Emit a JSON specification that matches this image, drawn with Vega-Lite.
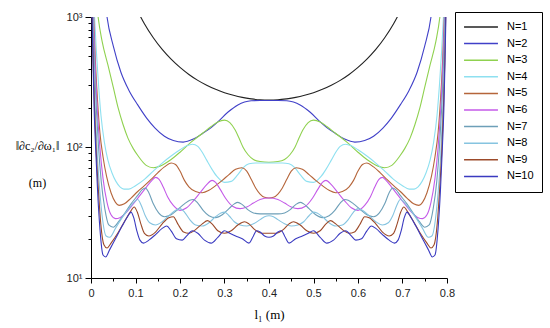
{
"$schema": "https://vega.github.io/schema/vega-lite/v6.json",
"width": 356, "height": 261,
"autosize": {"type": "none"},
"padding": {"left": 91, "top": 17, "right": 103, "bottom": 50},
"background": "white",
"config": {"view": {"stroke": null}, "font": "Liberation Sans"},
"data": {"values": [
{"N":"N=1","l":0.1,"v":1207},{"N":"N=1","l":0.112,"v":996},{"N":"N=1","l":0.12,"v":888},{"N":"N=1","l":0.14,"v":693},{"N":"N=1","l":0.16,"v":564},{"N":"N=1","l":0.18,"v":475},{"N":"N=1","l":0.2,"v":411},{"N":"N=1","l":0.22,"v":363},{"N":"N=1","l":0.24,"v":327},{"N":"N=1","l":0.26,"v":300},{"N":"N=1","l":0.28,"v":279},{"N":"N=1","l":0.3,"v":263},{"N":"N=1","l":0.32,"v":251},{"N":"N=1","l":0.34,"v":242},{"N":"N=1","l":0.36,"v":236},{"N":"N=1","l":0.38,"v":232},{"N":"N=1","l":0.4,"v":231},{"N":"N=1","l":0.42,"v":232},{"N":"N=1","l":0.44,"v":236},{"N":"N=1","l":0.46,"v":242},{"N":"N=1","l":0.48,"v":251},{"N":"N=1","l":0.5,"v":263},{"N":"N=1","l":0.52,"v":279},{"N":"N=1","l":0.54,"v":300},{"N":"N=1","l":0.56,"v":327},{"N":"N=1","l":0.58,"v":363},{"N":"N=1","l":0.6,"v":411},{"N":"N=1","l":0.62,"v":475},{"N":"N=1","l":0.64,"v":564},{"N":"N=1","l":0.66,"v":693},{"N":"N=1","l":0.68,"v":888},{"N":"N=1","l":0.688,"v":996},{"N":"N=1","l":0.7,"v":1207},
{"N":"N=2","l":0.03,"v":1500},{"N":"N=2","l":0.036,"v":1000},{"N":"N=2","l":0.05,"v":600},{"N":"N=2","l":0.067,"v":379},{"N":"N=2","l":0.085,"v":275},{"N":"N=2","l":0.105,"v":212},{"N":"N=2","l":0.125,"v":168},{"N":"N=2","l":0.144,"v":141},{"N":"N=2","l":0.165,"v":122},{"N":"N=2","l":0.185,"v":113},{"N":"N=2","l":0.207,"v":110},{"N":"N=2","l":0.23,"v":116},{"N":"N=2","l":0.252,"v":129},{"N":"N=2","l":0.27,"v":142},{"N":"N=2","l":0.285,"v":157},{"N":"N=2","l":0.308,"v":187},{"N":"N=2","l":0.33,"v":212},{"N":"N=2","l":0.345,"v":223},{"N":"N=2","l":0.36,"v":228},{"N":"N=2","l":0.38,"v":229},{"N":"N=2","l":0.4,"v":229},{"N":"N=2","l":0.42,"v":229},{"N":"N=2","l":0.44,"v":228},{"N":"N=2","l":0.455,"v":223},{"N":"N=2","l":0.47,"v":212},{"N":"N=2","l":0.492,"v":187},{"N":"N=2","l":0.515,"v":157},{"N":"N=2","l":0.53,"v":142},{"N":"N=2","l":0.548,"v":129},{"N":"N=2","l":0.57,"v":116},{"N":"N=2","l":0.593,"v":110},{"N":"N=2","l":0.615,"v":113},{"N":"N=2","l":0.635,"v":122},{"N":"N=2","l":0.656,"v":141},{"N":"N=2","l":0.675,"v":168},{"N":"N=2","l":0.695,"v":212},{"N":"N=2","l":0.715,"v":275},{"N":"N=2","l":0.733,"v":379},{"N":"N=2","l":0.75,"v":600},{"N":"N=2","l":0.764,"v":1000},{"N":"N=2","l":0.77,"v":1500},
{"N":"N=3","l":0.01,"v":1600},{"N":"N=3","l":0.016,"v":1000},{"N":"N=3","l":0.025,"v":650},{"N":"N=3","l":0.038,"v":429},{"N":"N=3","l":0.05,"v":290},{"N":"N=3","l":0.061,"v":201},{"N":"N=3","l":0.072,"v":150},{"N":"N=3","l":0.083,"v":118},{"N":"N=3","l":0.095,"v":98},{"N":"N=3","l":0.106,"v":86},{"N":"N=3","l":0.124,"v":73},{"N":"N=3","l":0.14,"v":70},{"N":"N=3","l":0.155,"v":72},{"N":"N=3","l":0.18,"v":81},{"N":"N=3","l":0.2,"v":92},{"N":"N=3","l":0.225,"v":110},{"N":"N=3","l":0.25,"v":128},{"N":"N=3","l":0.27,"v":145},{"N":"N=3","l":0.285,"v":157},{"N":"N=3","l":0.3,"v":162},{"N":"N=3","l":0.312,"v":155},{"N":"N=3","l":0.324,"v":136},{"N":"N=3","l":0.334,"v":115},{"N":"N=3","l":0.342,"v":100},{"N":"N=3","l":0.353,"v":88},{"N":"N=3","l":0.365,"v":81},{"N":"N=3","l":0.38,"v":78},{"N":"N=3","l":0.4,"v":77},{"N":"N=3","l":0.42,"v":78},{"N":"N=3","l":0.435,"v":81},{"N":"N=3","l":0.447,"v":88},{"N":"N=3","l":0.458,"v":100},{"N":"N=3","l":0.466,"v":115},{"N":"N=3","l":0.476,"v":136},{"N":"N=3","l":0.488,"v":155},{"N":"N=3","l":0.5,"v":162},{"N":"N=3","l":0.515,"v":157},{"N":"N=3","l":0.53,"v":145},{"N":"N=3","l":0.55,"v":128},{"N":"N=3","l":0.575,"v":110},{"N":"N=3","l":0.6,"v":92},{"N":"N=3","l":0.62,"v":81},{"N":"N=3","l":0.645,"v":72},{"N":"N=3","l":0.66,"v":70},{"N":"N=3","l":0.676,"v":73},{"N":"N=3","l":0.694,"v":86},{"N":"N=3","l":0.705,"v":98},{"N":"N=3","l":0.717,"v":118},{"N":"N=3","l":0.728,"v":150},{"N":"N=3","l":0.739,"v":201},{"N":"N=3","l":0.75,"v":290},{"N":"N=3","l":0.762,"v":429},{"N":"N=3","l":0.775,"v":650},{"N":"N=3","l":0.784,"v":1000},{"N":"N=3","l":0.79,"v":1600},
{"N":"N=4","l":0.004,"v":2000},{"N":"N=4","l":0.008,"v":1000},{"N":"N=4","l":0.012,"v":550},{"N":"N=4","l":0.017,"v":300},{"N":"N=4","l":0.0225,"v":175},{"N":"N=4","l":0.03,"v":110},{"N":"N=4","l":0.038,"v":80},{"N":"N=4","l":0.047,"v":64},{"N":"N=4","l":0.056,"v":55},{"N":"N=4","l":0.065,"v":50},{"N":"N=4","l":0.074,"v":48},{"N":"N=4","l":0.085,"v":48},{"N":"N=4","l":0.1,"v":51},{"N":"N=4","l":0.12,"v":57},{"N":"N=4","l":0.14,"v":66},{"N":"N=4","l":0.16,"v":76},{"N":"N=4","l":0.18,"v":86},{"N":"N=4","l":0.2,"v":96},{"N":"N=4","l":0.215,"v":103},{"N":"N=4","l":0.228,"v":106},{"N":"N=4","l":0.24,"v":102},{"N":"N=4","l":0.25,"v":92},{"N":"N=4","l":0.26,"v":80},{"N":"N=4","l":0.272,"v":68},{"N":"N=4","l":0.283,"v":60},{"N":"N=4","l":0.3,"v":54},{"N":"N=4","l":0.315,"v":55},{"N":"N=4","l":0.33,"v":62},{"N":"N=4","l":0.342,"v":70},{"N":"N=4","l":0.355,"v":75},{"N":"N=4","l":0.37,"v":76},{"N":"N=4","l":0.4,"v":76},{"N":"N=4","l":0.43,"v":76},{"N":"N=4","l":0.445,"v":75},{"N":"N=4","l":0.458,"v":70},{"N":"N=4","l":0.47,"v":62},{"N":"N=4","l":0.485,"v":55},{"N":"N=4","l":0.5,"v":54},{"N":"N=4","l":0.517,"v":60},{"N":"N=4","l":0.528,"v":68},{"N":"N=4","l":0.54,"v":80},{"N":"N=4","l":0.55,"v":92},{"N":"N=4","l":0.56,"v":102},{"N":"N=4","l":0.572,"v":106},{"N":"N=4","l":0.585,"v":103},{"N":"N=4","l":0.6,"v":96},{"N":"N=4","l":0.62,"v":86},{"N":"N=4","l":0.64,"v":76},{"N":"N=4","l":0.66,"v":66},{"N":"N=4","l":0.68,"v":57},{"N":"N=4","l":0.7,"v":51},{"N":"N=4","l":0.715,"v":48},{"N":"N=4","l":0.726,"v":48},{"N":"N=4","l":0.735,"v":50},{"N":"N=4","l":0.744,"v":55},{"N":"N=4","l":0.753,"v":64},{"N":"N=4","l":0.762,"v":80},{"N":"N=4","l":0.77,"v":110},{"N":"N=4","l":0.7775,"v":175},{"N":"N=4","l":0.783,"v":300},{"N":"N=4","l":0.788,"v":550},{"N":"N=4","l":0.792,"v":1000},{"N":"N=4","l":0.796,"v":2000},
{"N":"N=5","l":0.003,"v":2000},{"N":"N=5","l":0.006,"v":1000},{"N":"N=5","l":0.01,"v":450},{"N":"N=5","l":0.015,"v":220},{"N":"N=5","l":0.02,"v":130},{"N":"N=5","l":0.027,"v":85},{"N":"N=5","l":0.035,"v":60},{"N":"N=5","l":0.045,"v":45},{"N":"N=5","l":0.055,"v":38},{"N":"N=5","l":0.063,"v":36},{"N":"N=5","l":0.075,"v":37},{"N":"N=5","l":0.09,"v":41},{"N":"N=5","l":0.105,"v":46},{"N":"N=5","l":0.12,"v":51},{"N":"N=5","l":0.135,"v":57},{"N":"N=5","l":0.15,"v":64},{"N":"N=5","l":0.165,"v":71},{"N":"N=5","l":0.18,"v":76},{"N":"N=5","l":0.19,"v":74},{"N":"N=5","l":0.2,"v":66},{"N":"N=5","l":0.21,"v":56},{"N":"N=5","l":0.22,"v":50},{"N":"N=5","l":0.235,"v":46},{"N":"N=5","l":0.25,"v":45},{"N":"N=5","l":0.265,"v":47},{"N":"N=5","l":0.28,"v":51},{"N":"N=5","l":0.295,"v":56},{"N":"N=5","l":0.31,"v":62},{"N":"N=5","l":0.325,"v":68},{"N":"N=5","l":0.339,"v":70},{"N":"N=5","l":0.35,"v":66},{"N":"N=5","l":0.36,"v":57},{"N":"N=5","l":0.37,"v":49},{"N":"N=5","l":0.38,"v":44},{"N":"N=5","l":0.39,"v":41.5},{"N":"N=5","l":0.4,"v":41},{"N":"N=5","l":0.41,"v":41.5},{"N":"N=5","l":0.42,"v":44},{"N":"N=5","l":0.43,"v":49},{"N":"N=5","l":0.44,"v":57},{"N":"N=5","l":0.45,"v":66},{"N":"N=5","l":0.461,"v":70},{"N":"N=5","l":0.475,"v":68},{"N":"N=5","l":0.49,"v":62},{"N":"N=5","l":0.505,"v":56},{"N":"N=5","l":0.52,"v":51},{"N":"N=5","l":0.535,"v":47},{"N":"N=5","l":0.55,"v":45},{"N":"N=5","l":0.565,"v":46},{"N":"N=5","l":0.58,"v":50},{"N":"N=5","l":0.59,"v":56},{"N":"N=5","l":0.6,"v":66},{"N":"N=5","l":0.61,"v":74},{"N":"N=5","l":0.62,"v":76},{"N":"N=5","l":0.635,"v":71},{"N":"N=5","l":0.65,"v":64},{"N":"N=5","l":0.665,"v":57},{"N":"N=5","l":0.68,"v":51},{"N":"N=5","l":0.695,"v":46},{"N":"N=5","l":0.71,"v":41},{"N":"N=5","l":0.725,"v":37},{"N":"N=5","l":0.737,"v":36},{"N":"N=5","l":0.745,"v":38},{"N":"N=5","l":0.755,"v":45},{"N":"N=5","l":0.765,"v":60},{"N":"N=5","l":0.773,"v":85},{"N":"N=5","l":0.78,"v":130},{"N":"N=5","l":0.785,"v":220},{"N":"N=5","l":0.79,"v":450},{"N":"N=5","l":0.794,"v":1000},{"N":"N=5","l":0.797,"v":2000},
{"N":"N=6","l":0.003,"v":2000},{"N":"N=6","l":0.0055,"v":1000},{"N":"N=6","l":0.009,"v":450},{"N":"N=6","l":0.014,"v":200},{"N":"N=6","l":0.02,"v":100},{"N":"N=6","l":0.027,"v":58},{"N":"N=6","l":0.036,"v":38},{"N":"N=6","l":0.045,"v":30.5},{"N":"N=6","l":0.055,"v":28.5},{"N":"N=6","l":0.065,"v":29},{"N":"N=6","l":0.08,"v":32},{"N":"N=6","l":0.095,"v":37},{"N":"N=6","l":0.11,"v":43},{"N":"N=6","l":0.125,"v":50},{"N":"N=6","l":0.137,"v":56},{"N":"N=6","l":0.145,"v":59},{"N":"N=6","l":0.153,"v":57},{"N":"N=6","l":0.162,"v":50},{"N":"N=6","l":0.172,"v":42},{"N":"N=6","l":0.185,"v":36},{"N":"N=6","l":0.2,"v":33},{"N":"N=6","l":0.215,"v":34.5},{"N":"N=6","l":0.23,"v":39},{"N":"N=6","l":0.245,"v":45},{"N":"N=6","l":0.26,"v":52},{"N":"N=6","l":0.272,"v":56},{"N":"N=6","l":0.28,"v":54},{"N":"N=6","l":0.29,"v":48},{"N":"N=6","l":0.302,"v":41},{"N":"N=6","l":0.318,"v":35.5},{"N":"N=6","l":0.335,"v":34},{"N":"N=6","l":0.35,"v":35},{"N":"N=6","l":0.365,"v":37.5},{"N":"N=6","l":0.38,"v":40},{"N":"N=6","l":0.4,"v":41},{"N":"N=6","l":0.42,"v":40},{"N":"N=6","l":0.435,"v":37.5},{"N":"N=6","l":0.45,"v":35},{"N":"N=6","l":0.465,"v":34},{"N":"N=6","l":0.482,"v":35.5},{"N":"N=6","l":0.498,"v":41},{"N":"N=6","l":0.51,"v":48},{"N":"N=6","l":0.52,"v":54},{"N":"N=6","l":0.528,"v":56},{"N":"N=6","l":0.54,"v":52},{"N":"N=6","l":0.555,"v":45},{"N":"N=6","l":0.57,"v":39},{"N":"N=6","l":0.585,"v":34.5},{"N":"N=6","l":0.6,"v":33},{"N":"N=6","l":0.615,"v":36},{"N":"N=6","l":0.628,"v":42},{"N":"N=6","l":0.638,"v":50},{"N":"N=6","l":0.647,"v":57},{"N":"N=6","l":0.655,"v":59},{"N":"N=6","l":0.663,"v":56},{"N":"N=6","l":0.675,"v":50},{"N":"N=6","l":0.69,"v":43},{"N":"N=6","l":0.705,"v":37},{"N":"N=6","l":0.72,"v":32},{"N":"N=6","l":0.735,"v":29},{"N":"N=6","l":0.745,"v":28.5},{"N":"N=6","l":0.755,"v":30.5},{"N":"N=6","l":0.764,"v":38},{"N":"N=6","l":0.773,"v":58},{"N":"N=6","l":0.78,"v":100},{"N":"N=6","l":0.786,"v":200},{"N":"N=6","l":0.791,"v":450},{"N":"N=6","l":0.7945,"v":1000},{"N":"N=6","l":0.797,"v":2000},
{"N":"N=7","l":0.0025,"v":2000},{"N":"N=7","l":0.0045,"v":1000},{"N":"N=7","l":0.0075,"v":450},{"N":"N=7","l":0.012,"v":200},{"N":"N=7","l":0.017,"v":100},{"N":"N=7","l":0.023,"v":55},{"N":"N=7","l":0.031,"v":34},{"N":"N=7","l":0.04,"v":25.5},{"N":"N=7","l":0.05,"v":24.5},{"N":"N=7","l":0.062,"v":27},{"N":"N=7","l":0.075,"v":31},{"N":"N=7","l":0.09,"v":37},{"N":"N=7","l":0.105,"v":43},{"N":"N=7","l":0.115,"v":47.5},{"N":"N=7","l":0.122,"v":49},{"N":"N=7","l":0.13,"v":45},{"N":"N=7","l":0.14,"v":37},{"N":"N=7","l":0.152,"v":31.5},{"N":"N=7","l":0.165,"v":29.5},{"N":"N=7","l":0.18,"v":30.5},{"N":"N=7","l":0.195,"v":33.5},{"N":"N=7","l":0.21,"v":37},{"N":"N=7","l":0.222,"v":39.5},{"N":"N=7","l":0.23,"v":40},{"N":"N=7","l":0.24,"v":37.5},{"N":"N=7","l":0.252,"v":33},{"N":"N=7","l":0.265,"v":30},{"N":"N=7","l":0.28,"v":29},{"N":"N=7","l":0.295,"v":30.5},{"N":"N=7","l":0.31,"v":34},{"N":"N=7","l":0.322,"v":37},{"N":"N=7","l":0.33,"v":38},{"N":"N=7","l":0.34,"v":36.5},{"N":"N=7","l":0.352,"v":33.5},{"N":"N=7","l":0.365,"v":31.5},{"N":"N=7","l":0.38,"v":31},{"N":"N=7","l":0.4,"v":31},{"N":"N=7","l":0.42,"v":31},{"N":"N=7","l":0.435,"v":31.5},{"N":"N=7","l":0.448,"v":33.5},{"N":"N=7","l":0.46,"v":36.5},{"N":"N=7","l":0.47,"v":38},{"N":"N=7","l":0.478,"v":37},{"N":"N=7","l":0.49,"v":34},{"N":"N=7","l":0.505,"v":30.5},{"N":"N=7","l":0.52,"v":29},{"N":"N=7","l":0.535,"v":30},{"N":"N=7","l":0.548,"v":33},{"N":"N=7","l":0.56,"v":37.5},{"N":"N=7","l":0.57,"v":40},{"N":"N=7","l":0.578,"v":39.5},{"N":"N=7","l":0.59,"v":37},{"N":"N=7","l":0.605,"v":33.5},{"N":"N=7","l":0.62,"v":30.5},{"N":"N=7","l":0.635,"v":29.5},{"N":"N=7","l":0.648,"v":31.5},{"N":"N=7","l":0.66,"v":37},{"N":"N=7","l":0.67,"v":45},{"N":"N=7","l":0.678,"v":49},{"N":"N=7","l":0.685,"v":47.5},{"N":"N=7","l":0.695,"v":43},{"N":"N=7","l":0.71,"v":37},{"N":"N=7","l":0.725,"v":31},{"N":"N=7","l":0.738,"v":27},{"N":"N=7","l":0.75,"v":24.5},{"N":"N=7","l":0.76,"v":25.5},{"N":"N=7","l":0.769,"v":34},{"N":"N=7","l":0.777,"v":55},{"N":"N=7","l":0.783,"v":100},{"N":"N=7","l":0.788,"v":200},{"N":"N=7","l":0.7925,"v":450},{"N":"N=7","l":0.7955,"v":1000},{"N":"N=7","l":0.7975,"v":2000},
{"N":"N=8","l":0.002,"v":2000},{"N":"N=8","l":0.0035,"v":1000},{"N":"N=8","l":0.006,"v":450},{"N":"N=8","l":0.0095,"v":200},{"N":"N=8","l":0.014,"v":90},{"N":"N=8","l":0.019,"v":50},{"N":"N=8","l":0.025,"v":30},{"N":"N=8","l":0.034,"v":21},{"N":"N=8","l":0.042,"v":20.5},{"N":"N=8","l":0.055,"v":24},{"N":"N=8","l":0.07,"v":29},{"N":"N=8","l":0.085,"v":34},{"N":"N=8","l":0.098,"v":38.5},{"N":"N=8","l":0.105,"v":40},{"N":"N=8","l":0.113,"v":36},{"N":"N=8","l":0.122,"v":30},{"N":"N=8","l":0.132,"v":26.5},{"N":"N=8","l":0.145,"v":25.5},{"N":"N=8","l":0.16,"v":27},{"N":"N=8","l":0.175,"v":30},{"N":"N=8","l":0.19,"v":33},{"N":"N=8","l":0.2,"v":34},{"N":"N=8","l":0.21,"v":32},{"N":"N=8","l":0.222,"v":28},{"N":"N=8","l":0.235,"v":25.5},{"N":"N=8","l":0.25,"v":25},{"N":"N=8","l":0.265,"v":26.5},{"N":"N=8","l":0.28,"v":29.5},{"N":"N=8","l":0.292,"v":31.5},{"N":"N=8","l":0.3,"v":32},{"N":"N=8","l":0.31,"v":30},{"N":"N=8","l":0.322,"v":27},{"N":"N=8","l":0.335,"v":25.5},{"N":"N=8","l":0.35,"v":25},{"N":"N=8","l":0.365,"v":26},{"N":"N=8","l":0.38,"v":28},{"N":"N=8","l":0.39,"v":29.5},{"N":"N=8","l":0.4,"v":30},{"N":"N=8","l":0.41,"v":29.5},{"N":"N=8","l":0.42,"v":28},{"N":"N=8","l":0.435,"v":26},{"N":"N=8","l":0.45,"v":25},{"N":"N=8","l":0.465,"v":25.5},{"N":"N=8","l":0.478,"v":27},{"N":"N=8","l":0.49,"v":30},{"N":"N=8","l":0.5,"v":32},{"N":"N=8","l":0.508,"v":31.5},{"N":"N=8","l":0.52,"v":29.5},{"N":"N=8","l":0.535,"v":26.5},{"N":"N=8","l":0.55,"v":25},{"N":"N=8","l":0.565,"v":25.5},{"N":"N=8","l":0.578,"v":28},{"N":"N=8","l":0.59,"v":32},{"N":"N=8","l":0.6,"v":34},{"N":"N=8","l":0.61,"v":33},{"N":"N=8","l":0.625,"v":30},{"N":"N=8","l":0.64,"v":27},{"N":"N=8","l":0.655,"v":25.5},{"N":"N=8","l":0.668,"v":26.5},{"N":"N=8","l":0.678,"v":30},{"N":"N=8","l":0.687,"v":36},{"N":"N=8","l":0.695,"v":40},{"N":"N=8","l":0.702,"v":38.5},{"N":"N=8","l":0.715,"v":34},{"N":"N=8","l":0.73,"v":29},{"N":"N=8","l":0.745,"v":24},{"N":"N=8","l":0.758,"v":20.5},{"N":"N=8","l":0.766,"v":21},{"N":"N=8","l":0.775,"v":30},{"N":"N=8","l":0.781,"v":50},{"N":"N=8","l":0.786,"v":90},{"N":"N=8","l":0.7905,"v":200},{"N":"N=8","l":0.794,"v":450},{"N":"N=8","l":0.7965,"v":1000},{"N":"N=8","l":0.798,"v":2000},
{"N":"N=9","l":0.0015,"v":2000},{"N":"N=9","l":0.003,"v":1000},{"N":"N=9","l":0.005,"v":450},{"N":"N=9","l":0.008,"v":200},{"N":"N=9","l":0.012,"v":90},{"N":"N=9","l":0.017,"v":45},{"N":"N=9","l":0.022,"v":26},{"N":"N=9","l":0.029,"v":18},{"N":"N=9","l":0.036,"v":17},{"N":"N=9","l":0.045,"v":18.5},{"N":"N=9","l":0.06,"v":22},{"N":"N=9","l":0.075,"v":27},{"N":"N=9","l":0.088,"v":32},{"N":"N=9","l":0.097,"v":35},{"N":"N=9","l":0.104,"v":32},{"N":"N=9","l":0.112,"v":26},{"N":"N=9","l":0.12,"v":22},{"N":"N=9","l":0.13,"v":21},{"N":"N=9","l":0.145,"v":22.5},{"N":"N=9","l":0.16,"v":26},{"N":"N=9","l":0.175,"v":29},{"N":"N=9","l":0.185,"v":29.5},{"N":"N=9","l":0.195,"v":26},{"N":"N=9","l":0.208,"v":22.5},{"N":"N=9","l":0.22,"v":22},{"N":"N=9","l":0.235,"v":23.5},{"N":"N=9","l":0.25,"v":26},{"N":"N=9","l":0.262,"v":27.5},{"N":"N=9","l":0.272,"v":26},{"N":"N=9","l":0.285,"v":23},{"N":"N=9","l":0.3,"v":22},{"N":"N=9","l":0.315,"v":23},{"N":"N=9","l":0.33,"v":25.5},{"N":"N=9","l":0.345,"v":27},{"N":"N=9","l":0.355,"v":26},{"N":"N=9","l":0.368,"v":23.5},{"N":"N=9","l":0.385,"v":22},{"N":"N=9","l":0.4,"v":22},{"N":"N=9","l":0.415,"v":22},{"N":"N=9","l":0.432,"v":23.5},{"N":"N=9","l":0.445,"v":26},{"N":"N=9","l":0.455,"v":27},{"N":"N=9","l":0.47,"v":25.5},{"N":"N=9","l":0.485,"v":23},{"N":"N=9","l":0.5,"v":22},{"N":"N=9","l":0.515,"v":23},{"N":"N=9","l":0.528,"v":26},{"N":"N=9","l":0.538,"v":27.5},{"N":"N=9","l":0.55,"v":26},{"N":"N=9","l":0.565,"v":23.5},{"N":"N=9","l":0.58,"v":22},{"N":"N=9","l":0.592,"v":22.5},{"N":"N=9","l":0.605,"v":26},{"N":"N=9","l":0.615,"v":29.5},{"N":"N=9","l":0.625,"v":29},{"N":"N=9","l":0.64,"v":26},{"N":"N=9","l":0.655,"v":22.5},{"N":"N=9","l":0.67,"v":21},{"N":"N=9","l":0.68,"v":22},{"N":"N=9","l":0.688,"v":26},{"N":"N=9","l":0.696,"v":32},{"N":"N=9","l":0.703,"v":35},{"N":"N=9","l":0.712,"v":32},{"N":"N=9","l":0.725,"v":27},{"N":"N=9","l":0.74,"v":22},{"N":"N=9","l":0.755,"v":18.5},{"N":"N=9","l":0.764,"v":17},{"N":"N=9","l":0.771,"v":18},{"N":"N=9","l":0.778,"v":26},{"N":"N=9","l":0.783,"v":45},{"N":"N=9","l":0.788,"v":90},{"N":"N=9","l":0.792,"v":200},{"N":"N=9","l":0.795,"v":450},{"N":"N=9","l":0.797,"v":1000},{"N":"N=9","l":0.7985,"v":2000},
{"N":"N=10","l":0.0012,"v":2000},{"N":"N=10","l":0.0025,"v":1000},{"N":"N=10","l":0.0045,"v":450},{"N":"N=10","l":0.007,"v":200},{"N":"N=10","l":0.011,"v":90},{"N":"N=10","l":0.015,"v":45},{"N":"N=10","l":0.02,"v":24},{"N":"N=10","l":0.027,"v":15},{"N":"N=10","l":0.033,"v":14.5},{"N":"N=10","l":0.042,"v":16.5},{"N":"N=10","l":0.055,"v":20},{"N":"N=10","l":0.07,"v":25},{"N":"N=10","l":0.082,"v":29.5},{"N":"N=10","l":0.09,"v":32},{"N":"N=10","l":0.096,"v":29},{"N":"N=10","l":0.103,"v":23},{"N":"N=10","l":0.11,"v":19.5},{"N":"N=10","l":0.118,"v":18.5},{"N":"N=10","l":0.13,"v":19.5},{"N":"N=10","l":0.145,"v":21.5},{"N":"N=10","l":0.16,"v":24},{"N":"N=10","l":0.17,"v":25},{"N":"N=10","l":0.18,"v":23},{"N":"N=10","l":0.192,"v":20},{"N":"N=10","l":0.205,"v":19.5},{"N":"N=10","l":0.215,"v":21},{"N":"N=10","l":0.228,"v":23},{"N":"N=10","l":0.24,"v":22},{"N":"N=10","l":0.255,"v":19.5},{"N":"N=10","l":0.27,"v":18.5},{"N":"N=10","l":0.285,"v":20.5},{"N":"N=10","l":0.3,"v":23},{"N":"N=10","l":0.312,"v":22},{"N":"N=10","l":0.325,"v":21},{"N":"N=10","l":0.34,"v":20},{"N":"N=10","l":0.355,"v":18.5},{"N":"N=10","l":0.365,"v":21},{"N":"N=10","l":0.372,"v":23},{"N":"N=10","l":0.38,"v":22.5},{"N":"N=10","l":0.39,"v":21},{"N":"N=10","l":0.4,"v":20.5},{"N":"N=10","l":0.41,"v":21},{"N":"N=10","l":0.42,"v":22.5},{"N":"N=10","l":0.428,"v":23},{"N":"N=10","l":0.435,"v":21},{"N":"N=10","l":0.445,"v":18.5},{"N":"N=10","l":0.46,"v":20},{"N":"N=10","l":0.475,"v":21},{"N":"N=10","l":0.488,"v":22},{"N":"N=10","l":0.5,"v":23},{"N":"N=10","l":0.515,"v":20.5},{"N":"N=10","l":0.53,"v":18.5},{"N":"N=10","l":0.545,"v":19.5},{"N":"N=10","l":0.56,"v":22},{"N":"N=10","l":0.572,"v":23},{"N":"N=10","l":0.585,"v":21},{"N":"N=10","l":0.595,"v":19.5},{"N":"N=10","l":0.608,"v":20},{"N":"N=10","l":0.62,"v":23},{"N":"N=10","l":0.63,"v":25},{"N":"N=10","l":0.64,"v":24},{"N":"N=10","l":0.655,"v":21.5},{"N":"N=10","l":0.67,"v":19.5},{"N":"N=10","l":0.682,"v":18.5},{"N":"N=10","l":0.69,"v":19.5},{"N":"N=10","l":0.697,"v":23},{"N":"N=10","l":0.704,"v":29},{"N":"N=10","l":0.71,"v":32},{"N":"N=10","l":0.718,"v":29.5},{"N":"N=10","l":0.73,"v":25},{"N":"N=10","l":0.745,"v":20},{"N":"N=10","l":0.758,"v":16.5},{"N":"N=10","l":0.767,"v":14.5},{"N":"N=10","l":0.773,"v":15},{"N":"N=10","l":0.78,"v":24},{"N":"N=10","l":0.785,"v":45},{"N":"N=10","l":0.789,"v":90},{"N":"N=10","l":0.793,"v":200},{"N":"N=10","l":0.7955,"v":450},{"N":"N=10","l":0.7975,"v":1000},{"N":"N=10","l":0.7988,"v":2000}
]},
"mark": {"type": "line", "clip": true, "strokeWidth": 1.1, "interpolate": "monotone"},
"encoding": {
  "x": {"field": "l", "type": "quantitative",
    "scale": {"domain": [0, 0.8], "nice": false, "zero": false},
    "axis": {"values": [0,0.05,0.1,0.15,0.2,0.25,0.3,0.35,0.4,0.45,0.5,0.55,0.6,0.65,0.7,0.75,0.8],
      "labelExpr": "round(datum.value*100)%10==0 ? format(datum.value,'.1~f') : ''",
      "tickSize": {"condition": {"test": "round(datum.value*100)%10==0", "value": 5}, "value": 3},
      "grid": false, "domainColor": "#000", "tickColor": "#000", "labelColor": "#222",
      "labelFontSize": 11, "labelPadding": 4, "labelOverlap": false, "labelFlush": false,
      "title": "l₁ (m)", "titleFont": "Liberation Serif", "titleFontSize": 13, "titleFontWeight": 400, "titleColor": "#000", "titlePadding": 10}},
  "y": {"field": "v", "type": "quantitative",
    "scale": {"type": "log", "domain": [10, 1000], "nice": false},
    "axis": {"values": [10,20,30,40,50,60,70,80,90,100,200,300,400,500,600,700,800,900,1000],
      "labelExpr": "datum.value==10 ? '10¹' : datum.value==100 ? '10²' : datum.value==1000 ? '10³' : ''",
      "tickSize": {"condition": {"test": "datum.value==10 || datum.value==100 || datum.value==1000", "value": 6}, "value": 3},
      "grid": false, "domainColor": "#000", "tickColor": "#000", "labelColor": "#222",
      "labelFontSize": 11, "labelPadding": 3, "labelOverlap": false, "labelFlush": false,
      "title": ["‖∂c₂/∂ω₁‖", "(m)"], "titleAngle": 0, "titleAlign": "center", "titleBaseline": "middle",
      "titleX": -54, "titleY": 128, "titleLineHeight": 37,
      "titleFont": "Liberation Serif", "titleFontSize": 12, "titleFontWeight": 400, "titleColor": "#000"}},
  "color": {"field": "N", "type": "nominal",
    "scale": {"domain": ["N=1","N=2","N=3","N=4","N=5","N=6","N=7","N=8","N=9","N=10"],
      "range": ["#222222","#4040c8","#8fd14f","#8ee0f0","#b5653a","#c45ae8","#6d9fb8","#86c4e0","#9c4a2a","#3a3ac0"]},
    "legend": {"orient": "none", "legendX": 364, "legendY": -5, "title": null,
      "symbolType": "stroke", "symbolSize": 1150, "symbolStrokeWidth": 1.5,
      "labelFont": "Liberation Sans", "labelFontSize": 11, "labelColor": "#000", "labelOffset": 8,
      "strokeColor": "#000", "fillColor": "white", "padding": 8, "clipHeight": 14, "rowPadding": 2.6}}
}
}
